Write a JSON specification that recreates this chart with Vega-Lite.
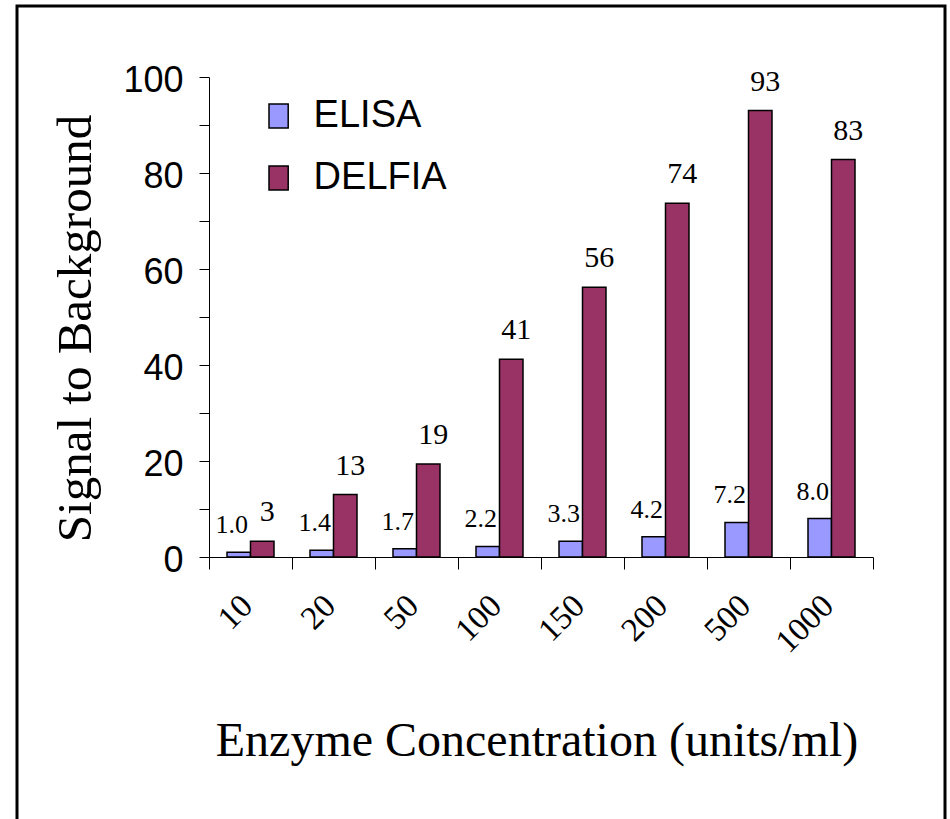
{
  "$schema": "https://vega.github.io/schema/vega-lite/v6.json",
  "width": 928,
  "height": 830,
  "autosize": "none",
  "padding": {"left": 17, "top": 6, "right": 5, "bottom": 0},
  "background": "white",
  "config": {"view": {"stroke": "black", "strokeWidth": 3}, "font": "Liberation Serif"},
  "data": {"values": [
    {"conc": 10, "method": "ELISA", "value": 1.0, "label": "1.0"},
    {"conc": 10, "method": "DELFIA", "value": 3.3, "label": "3"},
    {"conc": 20, "method": "ELISA", "value": 1.4, "label": "1.4"},
    {"conc": 20, "method": "DELFIA", "value": 13, "label": "13"},
    {"conc": 50, "method": "ELISA", "value": 1.7, "label": "1.7"},
    {"conc": 50, "method": "DELFIA", "value": 19.4, "label": "19"},
    {"conc": 100, "method": "ELISA", "value": 2.2, "label": "2.2"},
    {"conc": 100, "method": "DELFIA", "value": 41.2, "label": "41"},
    {"conc": 150, "method": "ELISA", "value": 3.3, "label": "3.3"},
    {"conc": 150, "method": "DELFIA", "value": 56.2, "label": "56"},
    {"conc": 200, "method": "ELISA", "value": 4.2, "label": "4.2"},
    {"conc": 200, "method": "DELFIA", "value": 73.7, "label": "74"},
    {"conc": 500, "method": "ELISA", "value": 7.2, "label": "7.2"},
    {"conc": 500, "method": "DELFIA", "value": 93, "label": "93"},
    {"conc": 1000, "method": "ELISA", "value": 8.0, "label": "8.0"},
    {"conc": 1000, "method": "DELFIA", "value": 82.8, "label": "83"}
  ]},
  "encoding": {
    "x": {
      "field": "conc", "type": "ordinal", "sort": null,
      "scale": {"range": [192, 856], "paddingInner": 0, "paddingOuter": 0},
      "axis": {
        "title": "Enzyme Concentration (units/ml)",
        "offset": -279,
        "tickBand": "extent",
        "tickSize": 12,
        "domainColor": "black",
        "tickColor": "black",
        "labelAngle": -45,
        "labelFont": "Liberation Serif",
        "labelFontSize": 33,
        "labelColor": "black",
        "labelPadding": 20,
        "labelOffset": -15,
        "titleFont": "Liberation Serif",
        "titleFontSize": 48,
        "titleFontWeight": "normal",
        "titleColor": "black",
        "titleX": 519.5,
        "titleY": 198,
        "titleBaseline": "alphabetic",
        "titleAlign": "center"
      }
    },
    "xOffset": {"field": "method", "type": "nominal", "sort": ["ELISA", "DELFIA"], "scale": {"paddingInner": 0, "paddingOuter": 0.766}},
    "y": {
      "field": "value", "type": "quantitative",
      "scale": {"domain": [0, 100], "range": [551, 71], "nice": false},
      "axis": {
        "title": "Signal to Background",
        "values": [0, 10, 20, 30, 40, 50, 60, 70, 80, 90, 100],
        "labelExpr": "datum.value % 20 === 0 ? datum.label : ''",
        "labelOverlap": false,
        "offset": -192,
        "grid": false,
        "domainColor": "black",
        "tickColor": "black",
        "tickSize": 10,
        "labelFont": "Liberation Sans",
        "labelFontSize": 36,
        "labelColor": "black",
        "labelPadding": 16,
        "labelOffset": 3,
        "titleFont": "Liberation Serif",
        "titleFontSize": 49,
        "titleFontWeight": "normal",
        "titleColor": "black",
        "titleX": -119,
        "titleY": 322,
        "titleBaseline": "alphabetic",
        "titleAngle": 270,
        "titleAlign": "center"
      }
    }
  },
  "layer": [
    {
      "mark": {"type": "bar", "stroke": "black", "strokeWidth": 1.5},
      "encoding": {
        "color": {
          "field": "method", "type": "nominal",
          "scale": {"domain": ["ELISA", "DELFIA"], "range": ["#9999FF", "#993366"]},
          "legend": {
            "title": null,
            "orient": "none",
            "legendX": 242.6,
            "legendY": 91,
            "symbolType": "M-0.8,-1H0.8V1H-0.8Z",
            "symbolSize": 576,
            "symbolStrokeColor": "black",
            "symbolStrokeWidth": 1.5,
            "symbolOpacity": 1,
            "labelFont": "Liberation Sans",
            "labelFontSize": 38,
            "labelColor": "black",
            "labelOffset": 16,
            "rowPadding": 24,
            "padding": 0
          }
        }
      }
    },
    {
      "transform": [{"filter": "datum.method === 'ELISA'"}],
      "mark": {"type": "text", "dx": -7, "dy": -19, "baseline": "alphabetic", "fontSize": 26, "font": "Liberation Serif", "color": "black"},
      "encoding": {"text": {"field": "label"}}
    },
    {
      "transform": [{"filter": "datum.method === 'DELFIA'"}],
      "mark": {"type": "text", "dx": 5, "dy": -20, "baseline": "alphabetic", "fontSize": 30, "font": "Liberation Serif", "color": "black"},
      "encoding": {"text": {"field": "label"}}
    }
  ]
}
